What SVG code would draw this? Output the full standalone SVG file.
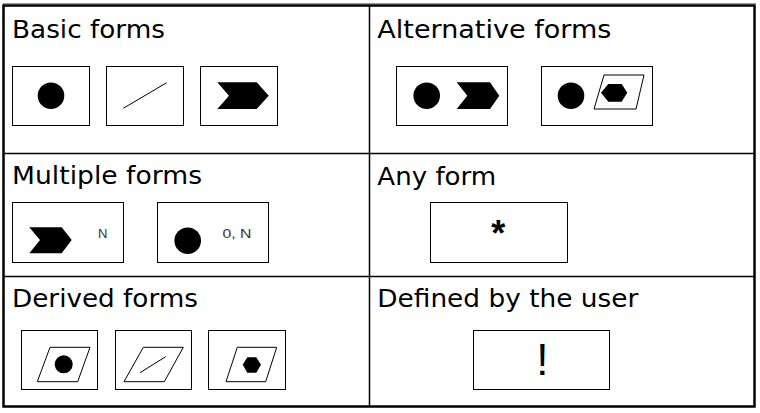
<svg xmlns="http://www.w3.org/2000/svg" width="760" height="413" viewBox="0 0 760 413">
<style>
.title{font-family:"DejaVu Sans","Liberation Sans",sans-serif;font-size:25px;fill:#000}
.box{fill:#fff;stroke:#000;stroke-width:1}
.fill{fill:#000;stroke:none}
.thin{fill:none;stroke:#000;stroke-width:1}
.small{font-family:"Liberation Sans",Arial,sans-serif;font-size:13px;fill:#333}
.grid{stroke:#000;stroke-width:1.5;fill:none}
</style>
<rect width="760" height="413" fill="#fff"/>
<line x1="3" y1="3.5" x2="756" y2="3.5" stroke="#999" stroke-width="1"/>
<rect x="3.5" y="5.5" width="751" height="401" fill="none" stroke="#000" stroke-width="2.5"/>
<line class="grid" x1="369.5" y1="6" x2="369.5" y2="406"/>
<line class="grid" x1="4" y1="153.5" x2="754" y2="153.5"/>
<line class="grid" x1="4" y1="276.5" x2="754" y2="276.5"/>

<g id="basic-forms">
<text class="title" x="12" y="37.5" textLength="153" lengthAdjust="spacingAndGlyphs">Basic forms</text>
<rect class="box" x="12.5" y="66.5" width="77" height="59"/>
<circle class="fill" cx="51" cy="95.7" r="13.3"/>
<rect class="box" x="106.5" y="66.5" width="77" height="59"/>
<line class="thin" x1="123.3" y1="108.3" x2="166.7" y2="82.7"/>
<rect class="box" x="200.5" y="66.5" width="77" height="59"/>
<polygon class="fill" points="217.3,82.3 256.7,82.3 268.7,95.7 256.7,109 217.3,109 229,95.7"/>
</g>

<g id="alternative-forms">
<text class="title" x="377.3" y="37.5" textLength="234" lengthAdjust="spacingAndGlyphs">Alternative forms</text>
<rect class="box" x="396.5" y="66.5" width="111" height="59"/>
<circle class="fill" cx="426.7" cy="95.7" r="13.3"/>
<polygon class="fill" points="456.7,82.3 490,82.3 499.3,95.7 490,109 456.7,109 467.3,95.7"/>
<rect class="box" x="541.5" y="66.5" width="111" height="59"/>
<circle class="fill" cx="571" cy="95.7" r="13.3"/>
<polygon class="thin" points="604,75 644,75 636,109 594,109"/>
<polygon class="fill" points="601,92.7 608.3,84 621.7,84 627.3,92.7 621.7,101.7 608.3,101.7"/>
</g>

<g id="multiple-forms">
<text class="title" x="12" y="184" textLength="190" lengthAdjust="spacingAndGlyphs">Multiple forms</text>
<rect class="box" x="12.5" y="202.5" width="111" height="60"/>
<polygon class="fill" points="29.3,227.3 61.7,227.3 71.7,240 61.7,253.3 29.3,253.3 40,240"/>
<text class="small" x="98" y="237.5">N</text>
<rect class="box" x="157.5" y="202.5" width="111" height="60"/>
<circle class="fill" cx="187.7" cy="240.7" r="13.3"/>
<text class="small" x="222.5" y="237.5" textLength="29" lengthAdjust="spacingAndGlyphs">0, N</text>
</g>

<g id="any-form">
<text class="title" x="377.3" y="184.5" textLength="119" lengthAdjust="spacingAndGlyphs">Any form</text>
<rect class="box" x="430.5" y="202.5" width="137" height="60"/>
<text x="498.3" y="246" text-anchor="middle" font-family="Liberation Sans,Arial,sans-serif" font-size="36" font-weight="bold" fill="#000">*</text>
</g>

<g id="derived-forms">
<text class="title" x="12" y="307" textLength="186" lengthAdjust="spacingAndGlyphs">Derived forms</text>
<rect class="box" x="21.5" y="330.5" width="76" height="59"/>
<polygon class="thin" points="50,347.3 90,347.3 77.7,381.7 37.3,381.7"/>
<circle class="fill" cx="63.7" cy="364.3" r="9"/>
<rect class="box" x="115.5" y="330.5" width="76" height="59"/>
<polygon class="thin" points="143.3,347.3 183.3,347.3 164.3,381.7 124,381.7"/>
<line class="thin" x1="140" y1="372.7" x2="165.7" y2="356.7"/>
<rect class="box" x="208.5" y="330.5" width="77" height="59"/>
<polygon class="thin" points="237.3,347.3 276.7,347.3 265.7,381.7 226,381.7"/>
<polygon class="fill" points="242.7,364.8 247.3,357.3 256.3,357.3 261,364.8 256.3,372.7 247.3,372.7"/>
</g>

<g id="defined-by-user">
<text class="title" x="377.3" y="307" textLength="261" lengthAdjust="spacingAndGlyphs">Defined by the user</text>
<rect class="box" x="473.5" y="330.5" width="136" height="59"/>
<text x="542.3" y="375" text-anchor="middle" font-family="Liberation Sans,Arial,sans-serif" font-size="44" fill="#000">!</text>
</g>
</svg>
